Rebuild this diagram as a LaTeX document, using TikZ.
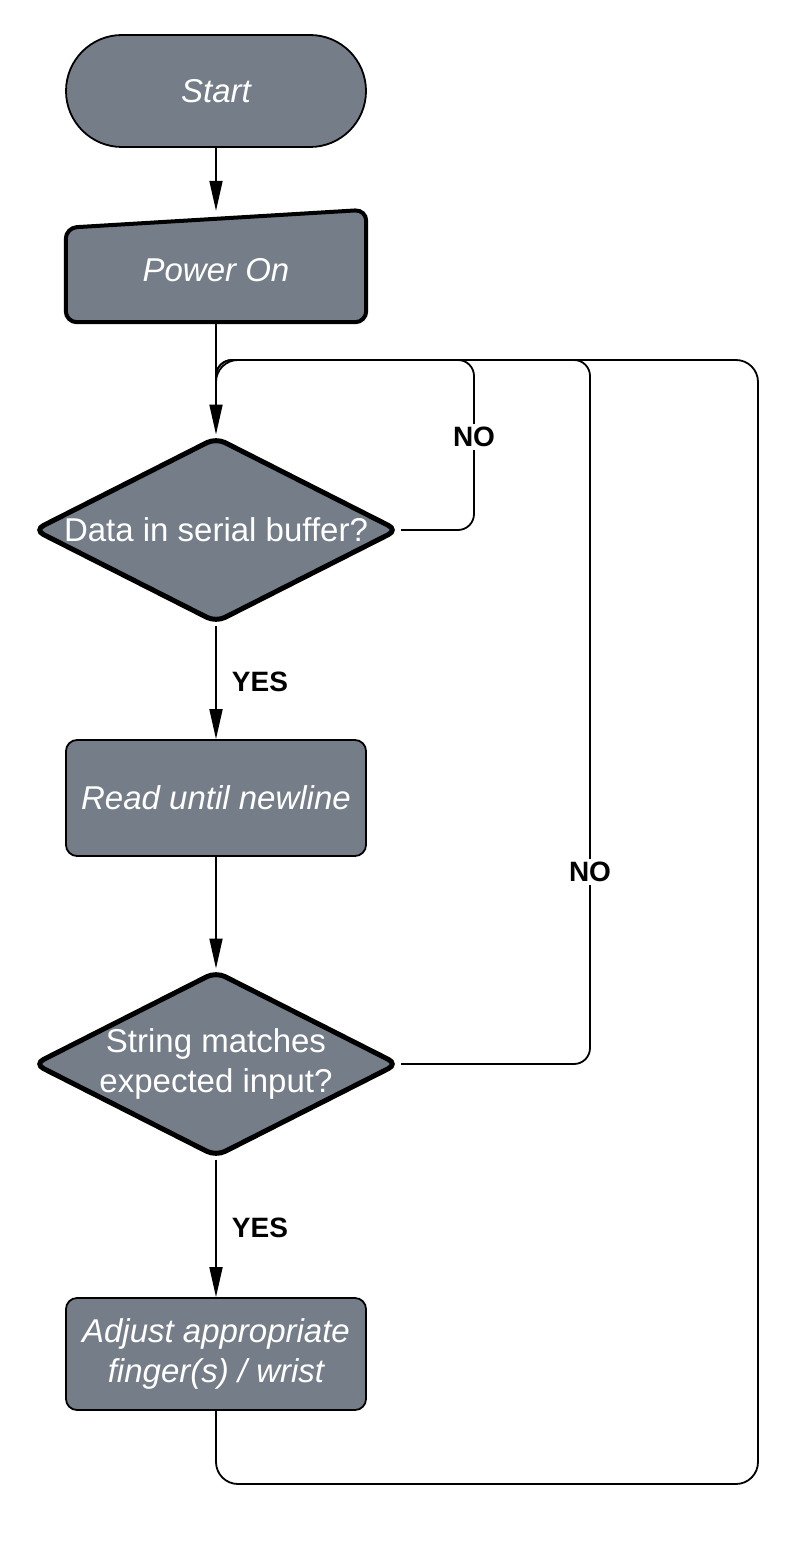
\documentclass[tikz,border=0pt]{standalone}
\usepackage{fontspec}
\setmainfont{Liberation Sans}
\usetikzlibrary{shapes.geometric, arrows.meta, calc}
\definecolor{slate}{RGB}{117,126,136}
\tikzset{>={Triangle[length=30pt,width=13pt]}}
\tikzset{
  boxtext/.style = {text=white, font=\fontsize{33}{40}\selectfont\itshape, align=center},
  terminal/.style = {boxtext, fill=slate, draw=black, line width=1.8pt, rounded corners=56pt, minimum width=300pt, minimum height=112pt, inner sep=0pt},
  process/.style = {boxtext, fill=slate, draw=black, line width=1.8pt, rounded corners=11pt, minimum width=300pt, inner sep=0pt},
  decision/.style = {diamond, fill=slate, draw=black, line width=5pt, rounded corners=10pt, minimum width=365pt, minimum height=186pt, inner sep=0pt},
  dectext/.style = {text=white, font=\fontsize{33}{40}\selectfont, align=center, inner sep=0pt},
  answer/.style = {font=\fontsize{28}{32}\selectfont\bfseries, inner sep=3pt},
  flow/.style = {draw=black, line width=1.8pt}
}
\begin{document}
\begin{tikzpicture}[x=1pt, y=-1pt]
	\useasboundingbox (0,0) rectangle (810,1562);

	% Blocks
	\node[terminal] (start) at (216,91) {Start};
	\node[boxtext, minimum width=300pt, minimum height=104pt, inner sep=0pt] (power) at (216,270) {};
	\path[fill=slate, draw=black, line width=4pt, rounded corners=11pt]
		(power.south west) -- ($(power.north west)+(0,10)$) -- ($(power.north east)+(0,-8)$) -- (power.south east) -- cycle;
	\node[boxtext] at (power.center) {Power On};
	\node[decision, label={[dectext]center:Data in serial buffer?}] (data) at (216,530) {};
	\node[process, minimum height=116pt] (read) at (216,798) {Read until newline};
	\node[decision, label={[dectext]center:String matches\\expected input?}] (check) at (216,1064) {};
	\node[process, minimum height=112pt] (adjust) at (216,1354) {Adjust appropriate\\finger(s) / wrist};

	% Loop points
	\coordinate (join) at (216,360);
	\coordinate (joindown) at (216,400);
	\coordinate (noone) at (474,360);
	\coordinate (notwo) at (590,360);
	\coordinate (back) at (758,360);
	\coordinate (low) at (216,1484);
	\coordinate (lowright) at (758,1484);

	% Connectors
	\draw[flow, ->] (start.south) -- ($(power.north)+(0,-7)$);
	\draw[flow, ->] (power.south) -- (data.north);
	\draw[flow, ->] (data.south) -- node[answer, anchor=west, xshift=12pt] {YES} (read.north);
	\draw[flow, ->] (read.south) -- (check.north);
	\draw[flow, ->] (check.south) -- node[answer, anchor=west, xshift=12pt] {YES} (adjust.north);

	% Loops back
	\draw[flow, rounded corners=16pt] (data.east) -| (noone) -- (join) -- (joindown);
	\node[answer, fill=white] at (474,437) {NO};
	\draw[flow, rounded corners=16pt] (check.east) -| (notwo) -- (join) -- (joindown);
	\node[answer, fill=white] at (590,872) {NO};
	\draw[flow, rounded corners=22pt] (adjust.south) -- (low) -- (lowright) -- (back) -- (join) -- (joindown);
\end{tikzpicture}
\end{document}
